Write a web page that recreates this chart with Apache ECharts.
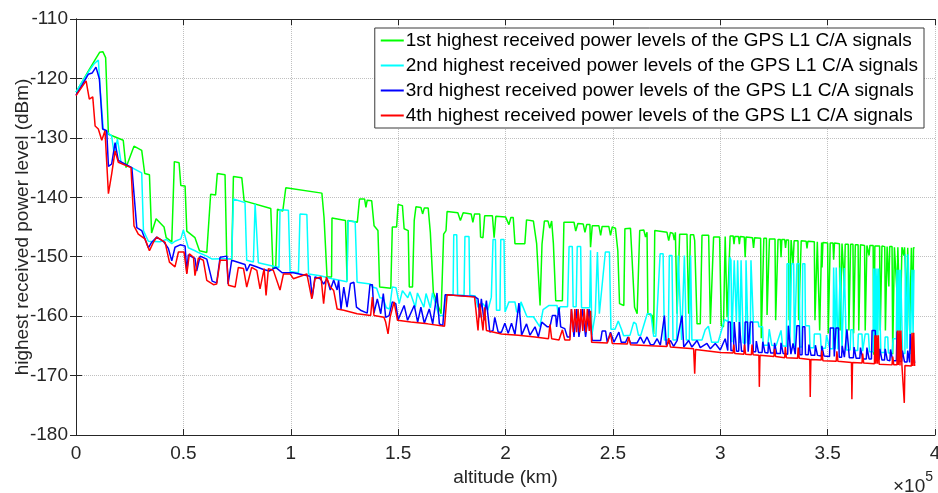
<!DOCTYPE html>
<html>
<head>
<meta charset="utf-8">
<title>GPS L1 C/A received power vs altitude</title>
<script src="https://cdn.jsdelivr.net/npm/echarts@6/dist/echarts.min.js"></script>
<style>
    html, body { margin: 0; padding: 0; background: #fff; }
    #chart { width: 938px; height: 493px; }
</style>
</head>
<body>
<div id="chart"></div>
<script>
// altitude in units of 1e5 km, power in dBm
var seriesNames = [
    '1st highest received power levels of the GPS L1 C/A signals',
    '2nd highest received power levels of the GPS L1 C/A signals',
    '3rd highest received power levels of the GPS L1 C/A signals',
    '4th highest received power levels of the GPS L1 C/A signals'
];
var seriesColors = ['#00ff00', '#00ffff', '#0000ff', '#ff0000'];

var firstPower = [
    [0,-122.3],[0.03,-120.5],[0.06,-118.6],[0.09,-116.8],[0.11,-115.6],[0.125,-115.5],[0.138,-116.5],[0.151,-129.4],
    [0.22,-130.4],[0.233,-135.0],[0.27,-131.4],[0.306,-132.1],[0.32,-136],[0.342,-136.2],[0.352,-146],[0.373,-143.6],
    [0.41,-145],[0.42,-146.8],[0.446,-147.5],[0.458,-134],[0.48,-134.2],[0.488,-138],[0.508,-138.1],[0.516,-145.7],
    [0.554,-146.8],[0.575,-149],[0.609,-149.3],[0.627,-139.5],[0.65,-139.6],[0.658,-136],[0.694,-136.2],[0.702,-150.3],
    [0.725,-150.4],[0.733,-136.5],[0.772,-136.7],[0.783,-140.6],[0.907,-141.9],[0.917,-151.9],[0.93,-151.9],[0.938,-142],
    [0.963,-142.3],[0.977,-138.4],[1.145,-139.3],[1.155,-143.4],[1.169,-153.4],[1.19,-153.4],[1.192,-143.5],[1.255,-143.9],
    [1.262,-154],[1.266,-143.9],[1.31,-144.2],[1.32,-140.3],[1.344,-140.3],[1.35,-141.7],[1.356,-140.5],[1.377,-140.6],
    [1.388,-144.8],[1.406,-145.6],[1.414,-155.1],[1.466,-155.3],[1.473,-145],[1.493,-145],[1.5,-141.2],[1.52,-141.4],
    [1.528,-145.3],[1.547,-145.6],[1.552,-155.1],[1.567,-155.1],[1.575,-143.9],[1.583,-141.6],[1.606,-141.7],[1.614,-142.8],
    [1.622,-141.8],[1.64,-141.8],[1.65,-145.9],[1.657,-145.9],[1.664,-156],[1.70,-159.6],[1.712,-146.2],[1.723,-145.6],
    [1.728,-142.4],[1.778,-142.6],[1.79,-143.9],[1.803,-142.6],[1.84,-142.8],[1.848,-144.2],[1.856,-142.8],[1.88,-142.8],
    [1.884,-146.7],[1.895,-146.8],[1.903,-143.1],[1.939,-143.1],[1.947,-146.8],[1.955,-143.2],[2.0,-143.3],[2.016,-144.6],
    [2.025,-143.4],[2.036,-143.4],[2.044,-147.8],[2.09,-147.8],[2.098,-143.8],[2.13,-144],[2.145,-147.8],[2.161,-158.2],
    [2.17,-147.9],[2.181,-144.0],[2.198,-144.0],[2.206,-145.2],[2.215,-144.0],[2.223,-147.8],[2.234,-157.4],[2.265,-157.4],
    [2.272,-144.2],[2.319,-144.2],[2.327,-145.7],[2.337,-144.4],[2.362,-144.5],[2.370,-145.9],[2.378,-144.6],[2.393,-144.6],
    [2.396,-148.4],[2.404,-144.8],[2.435,-144.8],[2.443,-146.4],[2.450,-144.9],[2.481,-144.9],[2.489,-146.4],[2.497,-145.0],
    [2.512,-145.2],[2.523,-149.0],[2.531,-157.9],[2.551,-158.2],[2.556,-145.3],[2.582,-145.2],[2.590,-145.3],[2.601,-158.5],
    [2.613,-159.6],[2.625,-145.6],[2.644,-145.5],[2.652,-146.7],[2.659,-145.9],[2.663,-159.6],[2.683,-159.9],[2.690,-163.0],
    [2.695,-145.6],[2.752,-145.9],[2.760,-147.3],[2.768,-145.9],[2.780,-146.1],[2.786,-147.2],[2.791,-145.9],[2.799,-159.6],
    [2.811,-146.2],[2.845,-146.2],[2.853,-159.6],[2.861,-146.3],[2.876,-146.3],[2.881,-147.3],[2.892,-161.3],[2.907,-161.3],
    [2.915,-146.4],[2.946,-146.4],[2.954,-161.3],[2.969,-146.7],[2.997,-146.7],[3.005,-161.6],[3.015,-161.8],[3.023,-146.6],
    [3.030,-146.6],[3.032,-160.2],[3.040,-160.2],[3.046,-146.5],[3.060,-146.5],[3.064,-147.9],[3.068,-146.6],[3.085,-146.6],
    [3.089,-147.9],[3.093,-146.6],[3.112,-146.7],[3.116,-150.1],[3.120,-146.7],[3.150,-146.8],[3.155,-148.5],[3.160,-146.8],
    [3.188,-146.9],[3.191,-163.7],[3.200,-163.7],[3.203,-146.9],[3.215,-146.9],[3.218,-159.8],[3.226,-159.8],[3.229,-147.0],
    [3.255,-147.0],[3.258,-160.7],[3.266,-160.7],[3.269,-147.1],[3.280,-147.1],[3.283,-150.1],[3.287,-147.1],[3.300,-147.1],
    [3.304,-148.5],[3.308,-147.2],[3.318,-147.2],[3.321,-160.7],[3.327,-160.7],[3.330,-147.2],[3.336,-147.2],[3.339,-151.2],
    [3.344,-147.3],[3.362,-147.3],[3.365,-160.7],[3.374,-160.7],[3.377,-147.3],[3.400,-147.4],[3.404,-148.6],[3.408,-147.4],
    [3.438,-147.5],[3.441,-160.7],[3.449,-160.7],[3.452,-147.5],[3.460,-147.6],[3.463,-162.4],[3.469,-162.4],[3.472,-147.6],
    [3.474,-151.8],[3.478,-147.6],[3.500,-147.7],[3.503,-162.9],[3.509,-162.9],[3.512,-147.7],[3.525,-147.7],[3.528,-150.5],
    [3.532,-147.7],[3.555,-147.8],[3.558,-162.4],[3.564,-162.4],[3.567,-147.8],[3.575,-147.8],[3.578,-155],[3.582,-147.9],
    [3.596,-147.9],[3.599,-162.4],[3.604,-162.4],[3.607,-147.9],[3.618,-147.9],[3.621,-162.9],[3.626,-162.9],[3.629,-148.0],
    [3.642,-148.0],[3.645,-162.4],[3.650,-162.4],[3.653,-148.0],[3.672,-148.1],[3.675,-162.4],[3.680,-162.4],[3.683,-148.1],
    [3.690,-148.1],[3.693,-149.8],[3.697,-148.1],[3.712,-148.1],[3.715,-166.5],[3.720,-148.2],[3.742,-148.2],[3.745,-162.4],
    [3.750,-162.4],[3.753,-148.2],[3.766,-148.3],[3.769,-162.4],[3.774,-162.4],[3.777,-148.3],[3.782,-148.3],[3.785,-155],
    [3.789,-148.3],[3.800,-148.3],[3.803,-166.4],[3.808,-166.4],[3.811,-148.4],[3.820,-148.4],[3.823,-156],[3.827,-148.4],
    [3.835,-148.4],[3.838,-162.4],[3.843,-162.4],[3.846,-148.4],[3.852,-148.4],[3.855,-149.8],[3.858,-148.4],[3.866,-148.4],
    [3.869,-158],[3.873,-148.5],[3.879,-148.5],[3.882,-162.4],[3.887,-162.4],[3.890,-148.5],[3.894,-148.5],[3.897,-160],
    [3.900,-148.5],[3.905,-148.5]
];

var secondPower = [
    [0,-122.3],[0.03,-120.5],[0.06,-118.8],[0.085,-117.5],[0.104,-116.9],[0.112,-121.5],[0.127,-128.5],[0.166,-129.7],
    [0.178,-132.8],[0.193,-130.2],[0.21,-134.2],[0.26,-135],[0.306,-135.9],[0.314,-145.6],[0.337,-147.4],[0.391,-147.5],
    [0.42,-147.1],[0.446,-147.8],[0.461,-147.4],[0.488,-147],[0.5,-145.5],[0.523,-148.5],[0.554,-149],[0.57,-149.3],
    [0.609,-149.9],[0.634,-150.4],[0.725,-150.3],[0.733,-140.3],[0.787,-140.9],[0.795,-150.6],[0.826,-150.9],[0.834,-141.1],
    [0.842,-141.2],[0.849,-151],[0.945,-151.8],[0.95,-142.1],[0.989,-142.2],[0.997,-152.5],[1.036,-152.7],[1.043,-142.8],
    [1.075,-142.9],[1.083,-152.9],[1.137,-153.2],[1.192,-153.7],[1.262,-154.2],[1.267,-144],[1.30,-144.1],[1.309,-154.3],
    [1.37,-154.6],[1.38,-155.1],[1.40,-155.3],[1.415,-156.9],[1.43,-157],[1.445,-158.6],[1.46,-158.8],[1.473,-155.1],
    [1.49,-155.2],[1.505,-157.9],[1.52,-155.7],[1.545,-156.9],[1.555,-155.9],[1.58,-158.5],[1.59,-156.1],[1.62,-158.5],
    [1.63,-156.2],[1.65,-158.6],[1.66,-156.1],[1.69,-159.9],[1.71,-159.9],[1.723,-156.4],[1.756,-156.4],[1.759,-146.3],
    [1.773,-146.3],[1.777,-156.5],[1.807,-156.5],[1.811,-146.6],[1.83,-146.6],[1.834,-156.5],[1.859,-156.6],[1.872,-158.5],
    [1.895,-157.9],[1.918,-159],[1.934,-156.8],[1.942,-147.1],[1.953,-147.1],[1.958,-159],[1.974,-159],[1.978,-147.1],
    [1.993,-147.1],[1.998,-159.3],[2.016,-157.6],[2.044,-157.6],[2.052,-159.3],[2.067,-159.3],[2.072,-157.6],[2.10,-160.1],
    [2.13,-160.1],[2.16,-161.8],[2.175,-158.9],[2.203,-158.2],[2.24,-158.2],[2.245,-159.6],[2.255,-158.4],[2.289,-158.4],
    [2.296,-148.3],[2.311,-148.3],[2.315,-158.4],[2.329,-158.4],[2.334,-148.3],[2.350,-148.3],[2.354,-158.6],[2.392,-158.6],
    [2.396,-148.9],[2.402,-163.2],[2.418,-159.6],[2.428,-149.2],[2.437,-159.6],[2.465,-149.2],[2.484,-149.2],[2.491,-162.2],
    [2.51,-162.2],[2.525,-160.8],[2.54,-162.2],[2.55,-163.3],[2.58,-163.2],[2.597,-161],[2.608,-161.3],[2.619,-163.2],
    [2.63,-163.2],[2.66,-159.6],[2.677,-159.6],[2.69,-163.4],[2.70,-163.4],[2.72,-149.5],[2.734,-149.5],[2.74,-164],
    [2.758,-164],[2.763,-149.8],[2.775,-149.8],[2.78,-164],[2.797,-164],[2.804,-149.8],[2.813,-149.8],[2.82,-164],
    [2.833,-149.8],[2.842,-164],[2.856,-164],[2.862,-149.8],[2.868,-164],[2.915,-164],[2.93,-162.3],[2.945,-161.7],
    [2.96,-164.4],[2.99,-164.4],[3.02,-160.6],[3.037,-160.9],[3.045,-150.1],[3.050,-150.6],[3.054,-164.4],[3.062,-164.4],
    [3.065,-150.6],[3.072,-150.6],[3.075,-161],[3.081,-150.6],[3.088,-150.6],[3.091,-164.5],[3.097,-150.6],[3.104,-150.6],
    [3.107,-164.5],[3.118,-164.5],[3.120,-150.6],[3.127,-150.6],[3.130,-164.6],[3.140,-164.6],[3.143,-150.6],[3.151,-150.6],
    [3.154,-161],[3.177,-161],[3.180,-161.8],[3.197,-161.8],[3.200,-164.9],[3.222,-164.9],[3.228,-162.2],[3.24,-164.9],
    [3.26,-165],[3.283,-162.4],[3.29,-165],[3.308,-165.1],[3.311,-151.2],[3.321,-151.2],[3.324,-165.1],[3.329,-165.1],
    [3.332,-151.2],[3.342,-151.2],[3.345,-165.2],[3.354,-165.2],[3.357,-151.2],[3.368,-151.2],[3.371,-165.2],[3.381,-165.2],
    [3.384,-151.2],[3.394,-151.2],[3.397,-161.6],[3.415,-161.6],[3.418,-165.3],[3.436,-165.3],[3.438,-163],[3.466,-163],
    [3.47,-165.4],[3.49,-165.4],[3.495,-163.2],[3.51,-165.5],[3.525,-165.5],[3.528,-151.8],[3.533,-151.8],[3.536,-165.5],
    [3.540,-151.8],[3.545,-151.8],[3.548,-165.6],[3.556,-165.6],[3.559,-151.8],[3.564,-151.8],[3.567,-165.6],[3.578,-151.9],
    [3.584,-151.9],[3.587,-165.7],[3.605,-165.7],[3.608,-162.3],[3.618,-162.3],[3.621,-165.8],[3.640,-165.8],[3.643,-163],
    [3.66,-163],[3.663,-165.9],[3.675,-163],[3.69,-163],[3.695,-166],[3.712,-166],[3.714,-152],[3.718,-163.5],
    [3.722,-152],[3.726,-163.5],[3.730,-152],[3.734,-163.5],[3.738,-152],[3.745,-152],[3.748,-166.1],[3.765,-166.1],
    [3.768,-163.5],[3.78,-163.5],[3.783,-166.2],[3.80,-166.2],[3.805,-163.8],[3.82,-163.8],[3.823,-152.2],[3.828,-164],
    [3.832,-152.2],[3.836,-164],[3.840,-152.2],[3.846,-152.2],[3.849,-166.3],[3.86,-166.3],[3.862,-149.6],[3.867,-149.6],
    [3.870,-165.5],[3.875,-149.6],[3.880,-149.6],[3.885,-166.4],[3.89,-166.4],[3.893,-152.2],[3.898,-163],[3.902,-152.2],
    [3.905,-152.2]
];

var thirdPower = [
    [0,-122.8],[0.03,-121],[0.057,-119.3],[0.075,-119.1],[0.093,-118.1],[0.109,-120.1],[0.124,-128.5],[0.143,-128.8],
    [0.151,-134.8],[0.166,-134.4],[0.182,-130.8],[0.197,-133.8],[0.26,-135],[0.283,-145.1],[0.306,-145.6],[0.337,-148.5],
    [0.352,-147.6],[0.376,-146.7],[0.407,-147.4],[0.43,-148.6],[0.446,-150.7],[0.461,-148.4],[0.485,-148],[0.508,-148.2],
    [0.516,-152.7],[0.523,-149.7],[0.554,-150.3],[0.562,-152.4],[0.578,-149.9],[0.609,-150.4],[0.634,-154.1],[0.655,-154.4],
    [0.671,-150.1],[0.702,-149.9],[0.708,-154.6],[0.725,-150.6],[0.787,-151.3],[0.795,-152.4],[0.81,-151.3],[0.84,-151.7],
    [0.87,-152.1],[0.90,-152.4],[0.93,-151.8],[0.96,-152.7],[1.012,-152.7],[1.09,-153.3],[1.10,-156.9],[1.113,-153.4],
    [1.119,-153.4],[1.1375,-153.7],[1.153,-154.6],[1.169,-153.7],[1.184,-155.6],[1.2,-153.9],[1.216,-155.6],[1.223,-154.0],
    [1.234,-158.8],[1.247,-155.1],[1.262,-158.5],[1.278,-154.5],[1.294,-154.3],[1.306,-158.5],[1.325,-159.0],[1.356,-159.5],
    [1.369,-154.7],[1.380,-154.7],[1.3875,-159.5],[1.403,-157.1],[1.419,-159.6],[1.431,-156.2],[1.442,-160.2],[1.458,-159.9],
    [1.473,-157.6],[1.489,-157.9],[1.5,-160.6],[1.528,-158.2],[1.544,-160.7],[1.575,-158.2],[1.591,-161.0],[1.606,-158.5],
    [1.622,-161.2],[1.645,-158.8],[1.661,-161.3],[1.681,-156.1],[1.692,-161.3],[1.708,-161.6],[1.719,-156.4],[1.856,-156.7],
    [1.872,-157.1],[1.880,-160.2],[1.8875,-157.1],[1.9,-160.7],[1.911,-157.4],[1.927,-162.7],[1.942,-162.4],[1.95,-160.2],
    [1.966,-162.7],[1.981,-162.7],[1.997,-161.2],[2.0125,-162.9],[2.028,-161.2],[2.044,-163.1],[2.0625,-157.8],[2.075,-163.2],
    [2.098,-161.3],[2.114,-163.2],[2.1375,-161.8],[2.153,-163.5],[2.169,-161.0],[2.195,-161.8],[2.207,-161.8],[2.218,-159.9],
    [2.234,-159.9],[2.238,-161.8],[2.249,-158.5],[2.257,-161.8],[2.276,-162.1],[2.288,-163.5],[2.300,-163.5],[2.307,-158.8],
    [2.319,-163.5],[2.331,-158.8],[2.342,-163.5],[2.358,-158.8],[2.373,-163.5],[2.389,-158.8],[2.404,-164.1],[2.443,-164.1],
    [2.450,-162.5],[2.466,-162.5],[2.474,-164.4],[2.489,-162.7],[2.505,-164.4],[2.528,-162.7],[2.539,-164.4],[2.559,-164.4],
    [2.570,-163.5],[2.582,-164.5],[2.613,-164.5],[2.628,-163.5],[2.644,-164.6],[2.659,-163.5],[2.675,-164.8],[2.690,-164.8],
    [2.706,-163.8],[2.721,-164.9],[2.740,-159.9],[2.749,-164.9],[2.768,-164.1],[2.783,-165.1],[2.799,-164.1],[2.822,-159.9],
    [2.830,-165.2],[2.853,-164.1],[2.868,-165.2],[2.892,-164.1],[2.907,-165.3],[2.938,-164.6],[2.954,-165.5],[2.977,-164.6],
    [3.000,-165.7],[3.023,-163.8],[3.035,-165.8],[3.037,-161],[3.047,-161],[3.050,-165.8],[3.062,-165.8],[3.065,-161],
    [3.073,-161],[3.076,-165.9],[3.086,-165.9],[3.089,-161],[3.096,-161],[3.099,-165.9],[3.113,-165.9],[3.116,-161],
    [3.127,-161],[3.130,-166],[3.137,-166],[3.140,-161],[3.151,-161],[3.154,-166],[3.165,-166],[3.168,-164.2],
    [3.175,-164.2],[3.178,-166.1],[3.195,-166.1],[3.198,-164.3],[3.205,-164.3],[3.208,-166.1],[3.222,-166.2],[3.225,-164.4],
    [3.232,-164.4],[3.235,-166.2],[3.25,-166.2],[3.253,-164.5],[3.26,-164.5],[3.263,-166.3],[3.28,-166.3],[3.283,-164.5],
    [3.29,-164.5],[3.293,-166.3],[3.314,-166.4],[3.317,-161.6],[3.326,-161.6],[3.329,-166.4],[3.336,-166.4],[3.339,-164.6],
    [3.346,-164.6],[3.349,-166.4],[3.354,-166.4],[3.357,-161.6],[3.368,-161.6],[3.371,-166.5],[3.381,-166.5],[3.384,-161.8],
    [3.394,-161.8],[3.397,-166.5],[3.41,-166.5],[3.413,-164.8],[3.42,-164.8],[3.423,-166.6],[3.44,-166.6],[3.443,-164.9],
    [3.45,-164.9],[3.453,-166.6],[3.47,-166.7],[3.473,-165],[3.48,-165],[3.483,-166.7],[3.509,-166.8],[3.512,-162],
    [3.528,-162],[3.531,-166.8],[3.536,-166.8],[3.539,-162],[3.551,-162],[3.554,-166.9],[3.565,-166.9],[3.568,-165],
    [3.575,-165],[3.578,-166.9],[3.587,-166.9],[3.590,-162.2],[3.598,-162.2],[3.601,-167],[3.62,-167],[3.623,-165.2],
    [3.63,-165.2],[3.633,-167.1],[3.65,-167.1],[3.653,-165.3],[3.66,-165.3],[3.663,-167.2],[3.68,-167.2],[3.683,-165.3],
    [3.69,-165.3],[3.693,-167.2],[3.704,-167.2],[3.707,-162.4],[3.722,-162.4],[3.725,-167.3],[3.74,-167.3],[3.743,-165.5],
    [3.75,-165.5],[3.753,-167.4],[3.765,-167.4],[3.768,-165.5],[3.775,-165.5],[3.778,-167.4],[3.79,-167.5],[3.793,-165.6],
    [3.80,-165.6],[3.803,-167.5],[3.82,-167.5],[3.823,-162.6],[3.831,-162.6],[3.834,-167.6],[3.845,-167.6],[3.848,-165.8],
    [3.855,-165.8],[3.858,-167.7],[3.87,-167.7],[3.873,-165.8],[3.882,-167.8],[3.885,-163],[3.893,-163],[3.896,-167.8],
    [3.9,-165.8],[3.905,-167.9]
];

var fourthPower = [
    [0,-122.9],[0.047,-120.4],[0.062,-123.5],[0.078,-123.1],[0.089,-128],[0.104,-128.5],[0.12,-130.4],[0.135,-128.8],
    [0.151,-139.4],[0.166,-136.1],[0.182,-132.2],[0.197,-134.1],[0.256,-135],[0.27,-144.8],[0.29,-146.2],[0.321,-147],
    [0.342,-149],[0.36,-147.6],[0.376,-146.7],[0.415,-147.6],[0.435,-150.9],[0.461,-151.7],[0.477,-149.2],[0.503,-149.2],
    [0.516,-152.9],[0.528,-149.5],[0.547,-150.1],[0.554,-153.2],[0.57,-150.2],[0.593,-150.6],[0.609,-154],[0.640,-154.7],
    [0.655,-154.6],[0.671,-150.6],[0.702,-150.6],[0.71,-154.8],[0.741,-155.1],[0.756,-151.8],[0.78,-152],[0.795,-155.1],
    [0.818,-151.8],[0.842,-152.3],[0.857,-155.4],[0.876,-152],[0.885,-156.5],[0.896,-152],[0.919,-152.3],[0.95,-155.6],
    [0.966,-152.9],[0.997,-152.9],[1.012,-153.7],[1.075,-152.9],[1.098,-157.1],[1.113,-153.7],[1.119,-153.4],[1.141,-153.4],
    [1.153,-157.9],[1.166,-153.4],[1.184,-155.1],[1.2,-155.7],[1.216,-158.8],[1.247,-159],[1.278,-159.3],[1.309,-159.6],
    [1.372,-159.9],[1.38,-156.8],[1.3875,-159.9],[1.434,-160.2],[1.442,-161],[1.453,-163],[1.4625,-160.2],[1.481,-157.6],
    [1.497,-160.7],[1.559,-161],[1.6375,-161.3],[1.716,-161.7],[1.728,-156.4],[1.856,-156.8],[1.872,-162.4],[1.880,-157.9],
    [1.895,-162.4],[1.903,-158.5],[1.911,-162.4],[1.919,-162.7],[1.981,-163],[2.059,-163.2],[2.1375,-163.5],[2.2,-163.8],
    [2.207,-161.4],[2.215,-163.8],[2.249,-164],[2.265,-162.3],[2.276,-164],[2.300,-164],[2.307,-158.8],[2.316,-162.7],
    [2.323,-158.8],[2.331,-162.7],[2.338,-158.8],[2.345,-162.7],[2.351,-158.8],[2.36,-162.5],[2.366,-158.8],[2.375,-162.7],
    [2.381,-158.8],[2.39,-162.5],[2.396,-159.1],[2.401,-164.4],[2.474,-164.5],[2.489,-162.9],[2.497,-164.6],[2.567,-164.7],
    [2.574,-163.5],[2.582,-164.8],[2.675,-165.0],[2.752,-165.1],[2.760,-163.7],[2.768,-165.2],[2.876,-165.5],[2.881,-169.7],
    [2.885,-165.6],[3.0,-166.1],[3.06,-166.2],[3.063,-164.8],[3.068,-166.3],[3.11,-166.4],[3.113,-164.8],[3.118,-166.4],
    [3.145,-166.5],[3.148,-164.8],[3.153,-166.5],[3.180,-166.6],[3.182,-171.9],[3.185,-166.6],[3.25,-166.8],[3.253,-165.5],
    [3.258,-166.8],[3.30,-167],[3.303,-165.2],[3.308,-167],[3.36,-167.1],[3.363,-165.3],[3.368,-167.1],[3.417,-167.3],
    [3.419,-173.6],[3.422,-167.3],[3.47,-167.4],[3.473,-165.8],[3.478,-167.5],[3.54,-167.6],[3.543,-165.9],[3.548,-167.6],
    [3.611,-167.8],[3.613,-174],[3.616,-167.8],[3.66,-167.9],[3.663,-166.3],[3.668,-167.9],[3.718,-168],[3.72,-163.2],
    [3.724,-168],[3.728,-163.2],[3.732,-168],[3.736,-163.2],[3.74,-168.1],[3.80,-168.2],[3.803,-166.8],[3.808,-168.2],
    [3.823,-168.2],[3.825,-162.4],[3.829,-168.2],[3.833,-162.4],[3.837,-168.3],[3.841,-162.4],[3.846,-168.3],[3.855,-168.3],
    [3.857,-174.6],[3.860,-168.3],[3.89,-168.4],[3.893,-162.8],[3.897,-168.4],[3.901,-162.8],[3.905,-168.4]
];

var allPower = [firstPower, secondPower, thirdPower, fourthPower];

var chart = echarts.init(document.getElementById('chart'));
var axisColor = '#262626';
var fontFamily = 'Liberation Sans, Arial, Helvetica, sans-serif';

var series = [];
for (var i = 0; i < allPower.length; i++) {
    series.push({
        name: seriesNames[i],
        type: 'line',
        data: allPower[i],
        xAxisIndex: 0,
        yAxisIndex: 0,
        symbol: 'none',
        lineStyle: { width: 1.5, color: seriesColors[i] },
        itemStyle: { color: seriesColors[i] }
    });
}

var boxAxis = {
    axisLine: { show: true, lineStyle: { color: axisColor, width: 1 } },
    axisTick: { show: true, inside: true, length: 6, lineStyle: { color: axisColor } },
    axisLabel: { show: false },
    splitLine: { show: false }
};

chart.setOption({
    animation: false,
    backgroundColor: '#fff',
    textStyle: { fontFamily: fontFamily },
    grid: { left: 76, right: 3, top: 19, bottom: 58, containLabel: false, outerBoundsMode: 'none' },
    legend: {
        data: seriesNames,
        orient: 'vertical',
        right: 14,
        top: 28,
        icon: 'rect',
        itemWidth: 23,
        itemHeight: 2,
        itemGap: 6,
        padding: [3, 6, 3, 6],
        backgroundColor: '#fff',
        borderColor: '#3a3a3a',
        borderWidth: 1,
        borderRadius: 0,
        textStyle: { fontSize: 19, lineHeight: 19, color: '#000', fontFamily: fontFamily, padding: [0, 0, 0, -3] }
    },
    xAxis: [
        {
            type: 'value', min: 0, max: 4, interval: 0.5,
            name: 'altitude (km)', nameLocation: 'middle', nameGap: 33, nameMoveOverlap: false,
            nameTextStyle: { fontSize: 19, color: axisColor },
            axisLine: { show: true, onZero: false, lineStyle: { color: axisColor } },
            axisTick: { show: true, inside: true, length: 6, lineStyle: { color: axisColor } },
            axisLabel: { fontSize: 19, color: axisColor, margin: 9 },
            splitLine: { show: true, lineStyle: { color: '#c0c0c0', type: 'dotted', width: 1 } }
        },
        Object.assign({ type: 'value', min: 0, max: 4, interval: 0.5, position: 'top' }, boxAxis)
    ],
    yAxis: [
        {
            type: 'value', min: -180, max: -110, interval: 10,
            name: 'highest received power level (dBm)', nameLocation: 'middle', nameGap: 44, nameMoveOverlap: false,
            nameTextStyle: { fontSize: 19, color: axisColor },
            axisLine: { show: true, onZero: false, lineStyle: { color: axisColor } },
            axisTick: { show: true, inside: true, length: 6, lineStyle: { color: axisColor } },
            axisLabel: { fontSize: 19, color: axisColor, margin: 8 },
            splitLine: { show: true, lineStyle: { color: '#c0c0c0', type: 'dotted', width: 1 } }
        },
        Object.assign({ type: 'value', min: -180, max: -110, interval: 10, position: 'right' }, boxAxis)
    ],
    graphic: [{
        type: 'text',
        right: 5,
        top: 470,
        style: {
            text: '{a|×10}{b|5}',
            rich: {
                a: { fontSize: 19, fill: axisColor, fontFamily: fontFamily, verticalAlign: 'bottom' },
                b: { fontSize: 14, fill: axisColor, fontFamily: fontFamily, padding: [0, 0, 12, 0] }
            }
        }
    }],
    series: series
});
</script>
</body>
</html>
